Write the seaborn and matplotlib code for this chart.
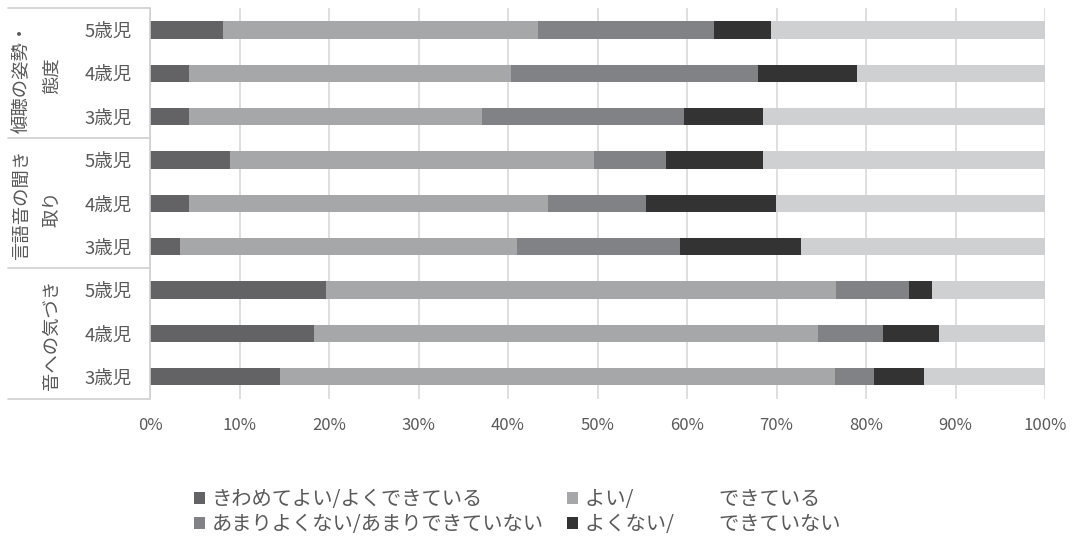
import matplotlib
matplotlib.use("Agg")
import matplotlib.pyplot as plt
import matplotlib.transforms as mtransforms
from matplotlib.patches import Patch
import pandas as pd
import seaborn as sns

# ---------------- data ----------------
group_lines = [["傾聴の姿勢・", "態度"], ["言語音の聞き", "取り"], ["音への気づき"]]
ages = ["5歳児", "4歳児", "3歳児"]
series_names = ["きわめてよい/よくできている",
                "よい/\u3000\u3000\u3000\u3000 できている",
                "あまりよくない/あまりできていない",
                "よくない/\u3000\u3000 できていない",
                ""]
s1 = [8.2, 4.4, 4.4, 8.9, 4.4, 3.4, 19.7, 18.3, 14.5]
s2 = [35.1, 35.9, 32.7, 40.7, 40.1, 37.6, 56.9, 56.3, 62.0]
s3 = [19.7, 27.6, 22.6, 8.1, 10.9, 18.2, 8.2, 7.3, 4.4]
s4 = [6.4, 11.1, 8.8, 10.8, 14.5, 13.5, 2.6, 6.3, 5.6]
s5 = [30.6, 21.0, 31.5, 31.5, 30.1, 27.3, 12.6, 11.8, 13.5]
xticks = list(range(0, 101, 10))
colors = ["#636365", "#a6a7a9", "#818285", "#333333", "#cfd0d2"]

series = [s1, s2, s3, s4, s5]
rows = [f"{g}-{a}" for g in range(3) for a in ages]
row_labels = [a for g in range(3) for a in ages]

df = pd.DataFrame({"row": rows})
cum = [0.0] * len(rows)
for i, s in enumerate(series):
    cum = [c + v for c, v in zip(cum, s)]
    df[f"c{i}"] = cum

# ---------------- figure ----------------
sns.set_theme(style="white")
plt.rcParams["font.family"] = ["Noto Sans CJK JP", "DejaVu Sans"]
TXT = "#595959"

W, H = 1073, 536
fig = plt.figure(figsize=(W / 100, H / 100), dpi=100)
L, R, T, B = 150, 1045, 8.3, 398.5
ax = fig.add_axes([L / W, 1 - B / H, (R - L) / W, (B - T) / H])

for i in reversed(range(len(series))):
    sns.barplot(data=df, x=f"c{i}", y="row", order=rows, orient="h",
                color=colors[i], saturation=1, width=0.4, errorbar=None,
                ax=ax, zorder=2, linewidth=0)

ax.set_xlim(0, 100)
ax.set_ylim(len(rows) - 0.5, -0.5)
ax.set_xticks(xticks)
ax.set_xticklabels([f"{v}%" for v in xticks])
ax.set_yticks(range(len(rows)))
ax.set_yticklabels(row_labels)
ax.set_xlabel("")
ax.set_ylabel("")
ax.tick_params(axis="x", length=0, pad=13, labelsize=12, labelcolor=TXT)
ax.tick_params(axis="y", length=0, pad=13, labelsize=13.3, labelcolor=TXT)
ax.xaxis.grid(True, color="#d9d9d9", lw=1.2, zorder=0)
ax.yaxis.grid(False)
ax.set_axisbelow(True)
for sp in ["top", "right", "bottom"]:
    ax.spines[sp].set_visible(False)
ax.spines["left"].set_color("#d0d0d0")
ax.spines["left"].set_linewidth(1.2)

# group separators and labels (left multi-level axis)
trans = mtransforms.blended_transform_factory(ax.transAxes, ax.transData)
x0 = (8 - L) / (R - L)
x1 = (149 - L) / (R - L)
for yb in [-0.5, 2.5, 5.5, 8.5]:
    ax.plot([x0, x1], [yb, yb], transform=trans, color="#d0d0d0", lw=1.2,
            clip_on=False)

col_x = [(22 - L) / (R - L), (52 - L) / (R - L)]
label_pos = [[(0, 1.1), (1, 1.05)], [(0, 4.04), (1, 4.13)], [(1, 7.04)]]
for lines, pos in zip(group_lines, label_pos):
    for text, (c, yc) in zip(lines, pos):
        ax.text(col_x[c], yc, text, transform=trans, rotation=90,
                ha="center", va="center", fontsize=13.2, color=TXT)

# legend
handles = [Patch(facecolor=colors[i], edgecolor="none") for i in range(4)]
order = [0, 2, 1, 3]
fig.legend([handles[i] for i in order], [series_names[i] for i in order],
           ncol=2, loc="upper left", bbox_to_anchor=(186 / W, 1 - 481 / H),
           frameon=False, fontsize=14.6, labelcolor=TXT,
           handlelength=0.55, handleheight=0.55, handletextpad=0.3,
           columnspacing=1.18, labelspacing=0.2, borderaxespad=0)

fig.savefig("out.png", dpi=100)
